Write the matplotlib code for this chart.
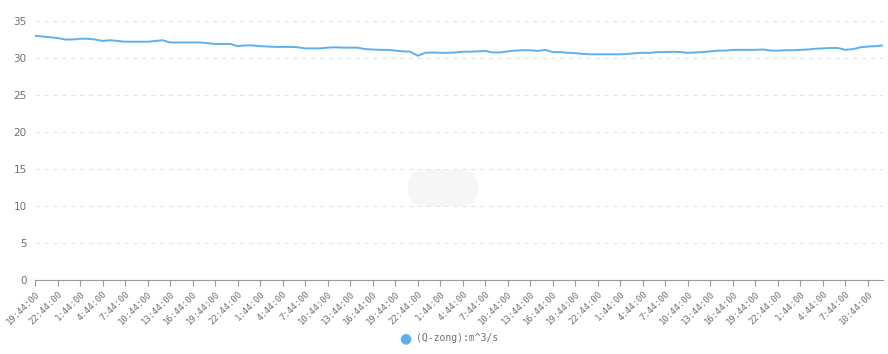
import matplotlib
matplotlib.use("Agg")
import numpy as np
import matplotlib.pyplot as plt
from matplotlib.patches import FancyBboxPatch
from matplotlib.transforms import IdentityTransform

# hourly categories starting at 19:44:00
start_hour = 19
n_points = 114
categories = [f"{(start_hour + i) % 24}:44:00" for i in range(n_points)]

# Q-zong flow (m^3/s)
q_zong = [
    33.0, 32.9, 32.8, 32.7, 32.5, 32.5, 32.6, 32.6, 32.5, 32.3,
    32.4, 32.3, 32.2, 32.2, 32.2, 32.2, 32.3, 32.4, 32.1, 32.1,
    32.1, 32.1, 32.1, 32.0, 31.9, 31.9, 31.9, 31.6, 31.7, 31.7,
    31.6, 31.55, 31.5, 31.5, 31.5, 31.45, 31.3, 31.3, 31.3, 31.4,
    31.45, 31.4, 31.4, 31.4, 31.2, 31.15, 31.1, 31.1, 31.0, 30.9,
    30.85, 30.3, 30.7, 30.75, 30.7, 30.7, 30.75, 30.85, 30.85, 30.9,
    30.95, 30.75, 30.75, 30.9, 31.0, 31.05, 31.05, 30.95, 31.1, 30.8,
    30.8, 30.7, 30.65, 30.55, 30.5, 30.5, 30.5, 30.5, 30.5, 30.55,
    30.65, 30.7, 30.7, 30.8, 30.8, 30.85, 30.8, 30.7, 30.75, 30.8,
    30.9, 31.0, 31.0, 31.1, 31.1, 31.1, 31.1, 31.15, 31.0, 31.0,
    31.05, 31.05, 31.1, 31.15, 31.25, 31.3, 31.35, 31.35, 31.1, 31.2,
    31.45, 31.55, 31.6, 31.7,
]
y_ticks = [0, 5, 10, 15, 20, 25, 30, 35]
series_name = "(Q-zong):m^3/s"

line_color = "#5fb0ec"
text_color = "#6e7079"

fig = plt.figure(figsize=(8.88, 3.54), dpi=100)
ax = fig.add_axes([35 / 888, 1 - 280 / 354, 848 / 888, 259 / 354])

x = np.arange(len(q_zong))
ax.plot(x, q_zong, color=line_color, lw=1.4, solid_joinstyle="round")

ax.set_xlim(0, len(q_zong) - 1)
ax.set_ylim(0, 35)
ax.set_yticks(y_ticks)
ax.set_yticklabels([str(v) for v in y_ticks], fontsize=7.5, color=text_color)
ax.tick_params(axis="y", length=0, pad=6)

tick_pos = x[::3]
ax.set_xticks(tick_pos)
ax.set_xticklabels([categories[i] for i in tick_pos], rotation=45, ha="right",
                   rotation_mode="anchor", fontsize=6.5, color=text_color,
                   family="DejaVu Sans Mono")
ax.tick_params(axis="x", length=4, color="#9a9a9a", width=0.8, pad=3)

ax.grid(axis="y", color="#e3e3e3", linestyle=(0, (4, 4)), lw=0.8)
ax.set_axisbelow(True)
for side in ["top", "right", "left"]:
    ax.spines[side].set_visible(False)
ax.spines["bottom"].set_color("#9a9a9a")
ax.spines["bottom"].set_linewidth(0.8)

# faint placeholder blob in the middle of the plot (pixel coords)
blob = FancyBboxPatch((408, 354 - 206), 70, 36,
                      boxstyle="round,pad=0,rounding_size=17",
                      transform=IdentityTransform(), facecolor="#f6f6f6",
                      edgecolor="none")
fig.patches.append(blob)

# legend
fig.text(405 / 888, 1 - 338 / 354, "●", color=line_color, fontsize=10,
         ha="center", va="center")
fig.text(416 / 888, 1 - 338 / 354, series_name, color=text_color, fontsize=7,
         ha="left", va="center", family="DejaVu Sans Mono")

fig.savefig("out.png", dpi=100, facecolor="white")
